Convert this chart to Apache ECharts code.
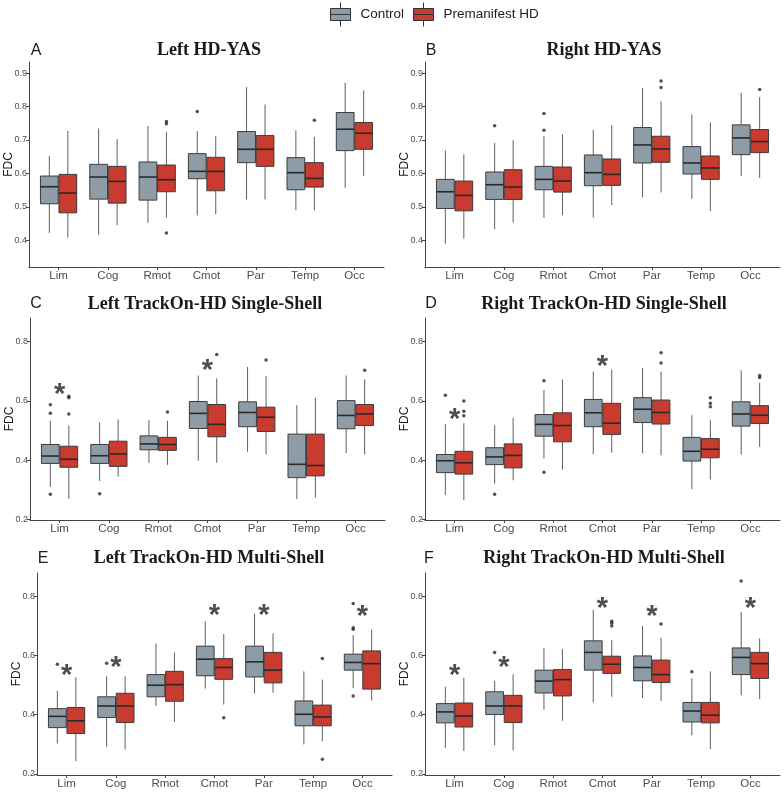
<!DOCTYPE html>
<html>
<head>
<meta charset="utf-8">
<script src="https://cdn.jsdelivr.net/npm/echarts@6/dist/echarts.min.js"></script>
<style>html,body{margin:0;padding:0;background:#fff;}#c{width:784px;height:792px;}</style>
</head>
<body>
<div id="c"></div>
<script>
// ---------------- DATA ----------------
const categories = ['Lim', 'Cog', 'Rmot', 'Cmot', 'Par', 'Temp', 'Occ'];
const groups = ['Control', 'Premanifest HD'];
const panelTitles = ['Left HD-YAS', 'Right HD-YAS', 'Left TrackOn-HD Single-Shell', 'Right TrackOn-HD Single-Shell', 'Left TrackOn-HD Multi-Shell', 'Right TrackOn-HD Multi-Shell'];
const panelLetters = ['A', 'B', 'C', 'D', 'E', 'F'];
const ticksTop = [0.4, 0.5, 0.6, 0.7, 0.8, 0.9];
const ticksBottom = [0.2, 0.4, 0.6, 0.8];

// [min, Q1, median, Q3, max] per category
const A_control = [[0.422,0.509,0.560,0.592,0.652],[0.416,0.523,0.589,0.627,0.734],[0.452,0.520,0.589,0.634,0.742],[0.474,0.584,0.606,0.659,0.726],[0.522,0.632,0.672,0.725,0.858],[0.490,0.551,0.602,0.647,0.729],[0.557,0.668,0.732,0.782,0.871]];
const A_hd = [[0.408,0.482,0.541,0.597,0.727],[0.445,0.511,0.576,0.621,0.702],[0.468,0.545,0.581,0.625,0.724],[0.478,0.548,0.606,0.648,0.711],[0.522,0.621,0.672,0.713,0.806],[0.490,0.559,0.585,0.632,0.709],[0.592,0.672,0.720,0.752,0.848]];
const A_outControl = [[3,0.785]];
const A_outHd = [[2,0.755],[2,0.748],[2,0.422],[5,0.759]];
const A_sig = [];

const B_control = [[0.390,0.495,0.545,0.582,0.669],[0.433,0.522,0.566,0.604,0.691],[0.467,0.551,0.582,0.621,0.711],[0.468,0.563,0.602,0.655,0.730],[0.528,0.631,0.685,0.737,0.856],[0.524,0.598,0.631,0.680,0.776],[0.592,0.656,0.706,0.745,0.841]];
const B_hd = [[0.405,0.488,0.534,0.577,0.657],[0.453,0.522,0.559,0.611,0.699],[0.475,0.544,0.577,0.619,0.717],[0.505,0.564,0.597,0.643,0.744],[0.543,0.633,0.673,0.711,0.815],[0.487,0.582,0.616,0.652,0.752],[0.586,0.662,0.695,0.731,0.828]];
const B_outControl = [[1,0.742],[2,0.779],[2,0.729]];
const B_outHd = [[4,0.876],[4,0.857],[6,0.851]];
const B_sig = [];

const C_control = [[0.310,0.389,0.414,0.453,0.533],[0.330,0.389,0.415,0.453,0.528],[0.391,0.435,0.455,0.482,0.536],[0.398,0.507,0.558,0.598,0.686],[0.428,0.513,0.561,0.597,0.715],[0.269,0.341,0.386,0.488,0.586],[0.424,0.506,0.551,0.601,0.686]];
const C_hd = [[0.270,0.376,0.403,0.447,0.517],[0.344,0.379,0.421,0.464,0.537],[0.384,0.433,0.453,0.477,0.533],[0.391,0.479,0.521,0.588,0.676],[0.419,0.497,0.545,0.579,0.684],[0.274,0.347,0.382,0.488,0.611],[0.419,0.517,0.556,0.588,0.673]];
const C_outControl = [[0,0.587],[0,0.558],[0,0.285],[1,0.287]];
const C_outHd = [[0,0.616],[0,0.611],[0,0.556],[2,0.563],[3,0.757],[4,0.738],[6,0.704]];
const C_sig = [[0,0.642],[3,0.724]];

const D_control = [[0.282,0.358,0.398,0.419,0.522],[0.321,0.385,0.411,0.442,0.518],[0.406,0.481,0.521,0.554,0.637],[0.420,0.513,0.560,0.605,0.699],[0.423,0.527,0.572,0.611,0.712],[0.302,0.397,0.430,0.477,0.552],[0.419,0.515,0.556,0.597,0.704]];
const D_hd = [[0.265,0.353,0.391,0.430,0.525],[0.332,0.374,0.416,0.455,0.543],[0.368,0.462,0.517,0.560,0.673],[0.425,0.487,0.525,0.592,0.706],[0.416,0.522,0.561,0.603,0.699],[0.335,0.408,0.437,0.473,0.535],[0.445,0.524,0.552,0.584,0.661]];
const D_outControl = [[0,0.619],[1,0.285],[2,0.668],[2,0.359]];
const D_outHd = [[0,0.600],[0,0.565],[0,0.550],[4,0.763],[4,0.728],[5,0.611],[5,0.592],[5,0.580],[6,0.686],[6,0.679]];
const D_sig = [[0,0.559],[3,0.738]];

const E_control = [[0.302,0.356,0.394,0.420,0.480],[0.291,0.390,0.429,0.460,0.529],[0.429,0.460,0.499,0.535,0.640],[0.488,0.531,0.587,0.631,0.715],[0.471,0.527,0.578,0.631,0.741],[0.299,0.362,0.401,0.446,0.546],[0.490,0.550,0.576,0.604,0.668]];
const E_hd = [[0.243,0.336,0.379,0.424,0.526],[0.282,0.373,0.429,0.472,0.529],[0.375,0.445,0.501,0.546,0.610],[0.434,0.519,0.559,0.589,0.672],[0.474,0.507,0.550,0.610,0.674],[0.310,0.362,0.392,0.432,0.518],[0.448,0.486,0.572,0.615,0.687]];
const E_outControl = [[0,0.570],[1,0.573],[6,0.775],[6,0.693],[6,0.688],[6,0.463]];
const E_outHd = [[3,0.389],[5,0.589],[5,0.249]];
const E_sig = [[0,0.553],[1,0.581],[3,0.755],[4,0.755],[6,0.752]];

const F_control = [[0.288,0.372,0.409,0.437,0.494],[0.296,0.400,0.429,0.477,0.514],[0.417,0.473,0.513,0.550,0.625],[0.441,0.550,0.610,0.649,0.753],[0.456,0.514,0.559,0.598,0.699],[0.330,0.375,0.412,0.441,0.522],[0.465,0.535,0.593,0.625,0.747]];
const F_hd = [[0.277,0.358,0.395,0.439,0.524],[0.279,0.373,0.429,0.465,0.536],[0.379,0.463,0.518,0.552,0.621],[0.460,0.539,0.570,0.597,0.651],[0.446,0.508,0.535,0.584,0.659],[0.283,0.372,0.398,0.441,0.546],[0.452,0.522,0.572,0.610,0.657]];
const F_outControl = [[1,0.610],[5,0.545],[6,0.851]];
const F_outHd = [[3,0.715],[3,0.708],[3,0.699],[4,0.706]];
const F_sig = [[0,0.553],[1,0.580],[3,0.781],[4,0.753],[6,0.781]];

// ---------------- LAYOUT / STYLE ----------------
const panelData = [
  [A_control, A_hd, A_outControl, A_outHd, A_sig],
  [B_control, B_hd, B_outControl, B_outHd, B_sig],
  [C_control, C_hd, C_outControl, C_outHd, C_sig],
  [D_control, D_hd, D_outControl, D_outHd, D_sig],
  [E_control, E_hd, E_outControl, E_outHd, E_sig],
  [F_control, F_hd, F_outControl, F_outHd, F_sig]
];
const gridBoxes = [
  {left: 29, top: 62, width: 355, height: 205, ymin: 0.320, ymax: 0.933, ticks: ticksTop},
  {left: 425, top: 62, width: 355, height: 205, ymin: 0.320, ymax: 0.933, ticks: ticksTop},
  {left: 30, top: 318, width: 355, height: 202, ymin: 0.198, ymax: 0.880, ticks: ticksBottom},
  {left: 425, top: 318, width: 355, height: 202, ymin: 0.198, ymax: 0.880, ticks: ticksBottom},
  {left: 37, top: 573, width: 355, height: 202, ymin: 0.196, ymax: 0.878, ticks: ticksBottom},
  {left: 425, top: 573, width: 355, height: 202, ymin: 0.196, ymax: 0.878, ticks: ticksBottom}
];
const titlePos = [[209, 50], [604, 50], [205, 304], [604, 304], [209, 558], [604, 558]];
const letterPos = [[36, 51], [431, 51], [36, 304], [431, 304], [43, 559], [429, 559]];
const fills = ['#8d9ca6', '#c93a2f'];
const dodge = [-0.1875, 0.1875];
const boxW = 0.36;
const SANS = '"Liberation Sans", Arial, sans-serif';
const SERIF = '"Liberation Serif", "Times New Roman", serif';

function boxRenderer(k) {
  return function (params, api) {
    const x = api.value(0) + dodge[k];
    const lo = api.coord([x, api.value(1)]);
    const q1 = api.coord([x, api.value(2)]);
    const md = api.coord([x, api.value(3)]);
    const q3 = api.coord([x, api.value(4)]);
    const hi = api.coord([x, api.value(5)]);
    const w = api.size([boxW, 0])[0];
    const cx = lo[0];
    const lineStyle = {stroke: '#5e5e5e', lineWidth: 1};
    return {
      type: 'group',
      children: [
        {type: 'line', shape: {x1: cx, y1: hi[1], x2: cx, y2: q3[1]}, style: lineStyle},
        {type: 'line', shape: {x1: cx, y1: q1[1], x2: cx, y2: lo[1]}, style: lineStyle},
        {type: 'rect', shape: {x: cx - w / 2, y: q3[1], width: w, height: q1[1] - q3[1]},
          style: {fill: fills[k], stroke: '#3c3c3c', lineWidth: 1}},
        {type: 'line', shape: {x1: cx - w / 2, y1: md[1], x2: cx + w / 2, y2: md[1]},
          style: {stroke: '#2a2a2a', lineWidth: 1.6}}
      ]
    };
  };
}

const grids = [], xAxes = [], yAxes = [], series = [], titles = [];
gridBoxes.forEach(function (g, i) {
  grids.push({left: g.left, top: g.top, width: g.width, height: g.height, containLabel: false, outerBoundsMode: 'none'});
  xAxes.push({
    gridIndex: i, type: 'value', min: -0.6, max: 6.6,
    splitLine: {show: false},
    axisLine: {show: true, onZero: false, lineStyle: {color: '#444', width: 1}},
    axisTick: {show: true, length: 3, customValues: categories.map(function (c, j) { return j; }), lineStyle: {color: '#444'}},
    axisLabel: {show: true, customValues: categories.map(function (c, j) { return j; }), formatter: function (v) { return categories[Math.round(v)]; },
      fontSize: 11.5, color: '#4d4d4d', margin: 3, fontFamily: SANS}
  });
  yAxes.push({
    gridIndex: i, type: 'value', min: g.ymin, max: g.ymax,
    name: 'FDC', nameLocation: 'middle', nameGap: 14, nameMoveOverlap: false,
    nameTextStyle: {fontSize: 12, color: '#1a1a1a', fontFamily: SANS},
    splitLine: {show: false},
    axisLine: {show: true, onZero: false, lineStyle: {color: '#444', width: 1}},
    axisTick: {show: true, length: 3, customValues: g.ticks, lineStyle: {color: '#444'}},
    axisLabel: {show: true, customValues: g.ticks, formatter: function (v) { return v.toFixed(1); },
      fontSize: 9, color: '#4d4d4d', margin: 2, fontFamily: SANS}
  });
  const d = panelData[i];
  [0, 1].forEach(function (k) {
    series.push({
      name: groups[k], type: 'custom', xAxisIndex: i, yAxisIndex: i,
      renderItem: boxRenderer(k),
      itemStyle: {color: fills[k], borderColor: '#333', borderWidth: 1},
      encode: {x: 0, y: [1, 2, 3, 4, 5]},
      data: d[k].map(function (r, j) { return [j].concat(r); }),
      z: 2
    });
    series.push({
      name: 'outlier', type: 'scatter', xAxisIndex: i, yAxisIndex: i,
      symbol: 'circle', symbolSize: 3.5,
      itemStyle: {color: '#262626'},
      data: d[2 + k].map(function (p) { return [p[0] + dodge[k], p[1]]; }),
      z: 3
    });
  });
  series.push({
    name: 'significance', type: 'scatter', xAxisIndex: i, yAxisIndex: i,
    symbol: 'circle', symbolSize: 1, itemStyle: {color: 'rgba(0,0,0,0)'},
    label: {show: true, position: 'inside', formatter: '*', fontSize: 29, fontWeight: 'bold',
      color: '#222', fontFamily: SANS, offset: [0, 7]},
    data: d[4].map(function (p) { return [p[0], p[1]]; }),
    z: 4
  });
  titles.push({text: panelTitles[i], left: titlePos[i][0], top: titlePos[i][1], textAlign: 'center', textVerticalAlign: 'middle', padding: 0,
    textStyle: {fontFamily: SERIF, fontWeight: 'bold', fontSize: 18, color: '#1a1a1a'}});
  titles.push({text: panelLetters[i], left: letterPos[i][0], top: letterPos[i][1], textAlign: 'center', textVerticalAlign: 'middle', padding: 0,
    textStyle: {fontFamily: SANS, fontWeight: 'normal', fontSize: 16, color: '#1a1a1a'}});
});

const ICON = 'path://M10,0 L10,6 M0,6 L20,6 L20,18 L0,18 Z M0,12 L20,12 M10,18 L10,24';

const chart = echarts.init(document.getElementById('c'), null, {renderer: 'canvas'});
chart.setOption({
  animation: false,
  backgroundColor: '#ffffff',
  title: titles,
  legend: {
    top: 2, left: 330, itemWidth: 20, itemHeight: 24, itemGap: 9, padding: 0,
    textStyle: {fontSize: 13.5, color: '#222', fontFamily: SANS, padding: [0, 0, 0, 5]},
    itemStyle: {borderColor: '#333', borderWidth: 1},
    data: [{name: 'Control', icon: ICON}, {name: 'Premanifest HD', icon: ICON}]
  },
  grid: grids,
  xAxis: xAxes,
  yAxis: yAxes,
  series: series
});
</script>
</body>
</html>
